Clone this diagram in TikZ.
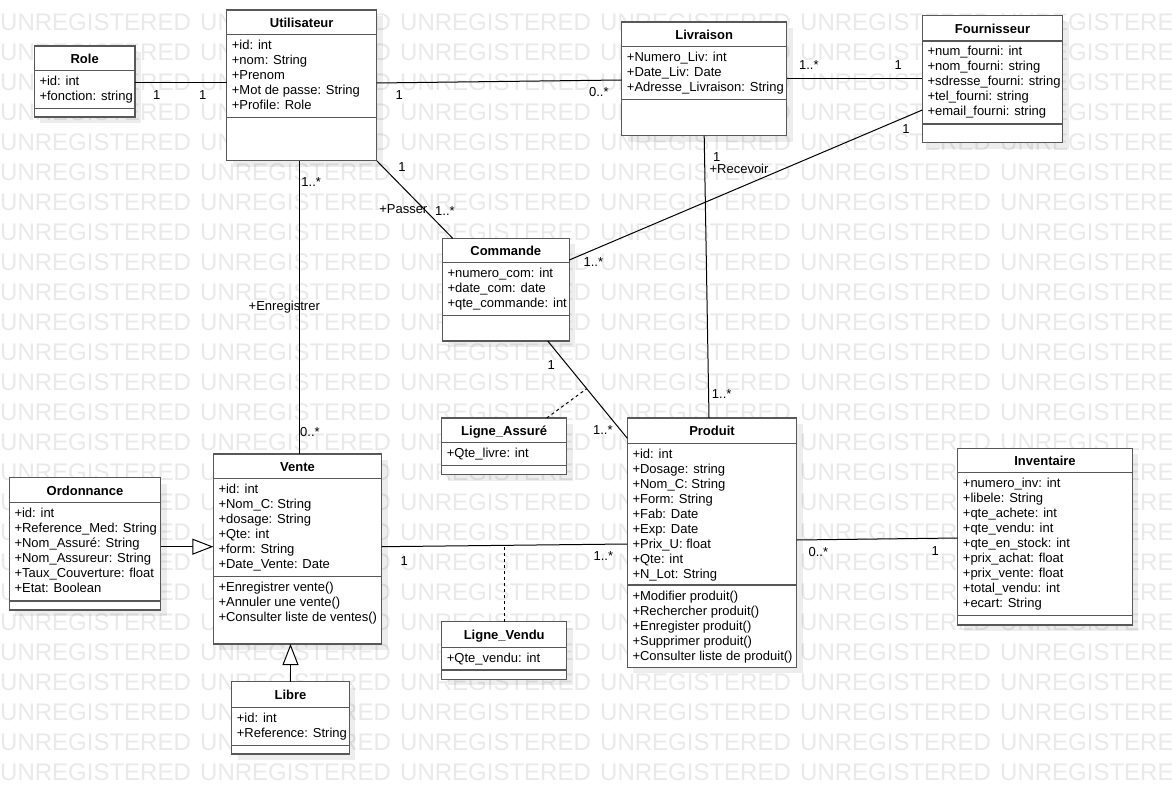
\documentclass[tikz,border=0pt]{standalone}
\usepackage{fontspec}
\setmainfont{Liberation Sans}
\usetikzlibrary{arrows.meta}
\definecolor{wmgray}{RGB}{233,233,233}
\definecolor{boxborder}{RGB}{88,88,88}
\newcommand{\umlclass}[9]{%
  \fill[boxshadow] ({#2+6},{#3+6}) rectangle ({#4+6},{#5+6});
  \node[classbox, minimum width={(#4-#2)*1pt}, minimum height={(#5-#3)*1pt}] (#1) at ({(#2+#4)/2},{(#3+#5)/2}) {};
  \draw[classline] ({#2},{#6}) -- ({#4},{#6});
  \draw[classline] ({#2},{#7}) -- ({#4},{#7});
  \node[classtitle] (#1-t) at ({(#2+#4)/2},{(#3+#6)/2+5}) {#8};
  \foreach \mtxt [count=\mi from 0] in {#9} {\node[member] (#1-a\mi) at ({#2+5},{#6+15+15*\mi}) {\mtxt};}%
}
\newcommand{\umlmethods}[4]{%
  \foreach \mtxt [count=\mi from 0] in {#4} {\node[member] (#1-m\mi) at ({#2+5},{#3+15+15*\mi}) {\mtxt};}%
}
\begin{document}
\begin{tikzpicture}[x=1pt,y=-1pt,
  classbox/.style={draw=boxborder, line width=1.3pt, fill=white, inner sep=0pt, outer sep=0pt},
  classline/.style={draw=boxborder, line width=1.3pt},
  boxshadow/.style={fill=black, opacity=0.07},
  classtitle/.style={font=\fontsize{13}{15}\selectfont\bfseries, anchor=base, inner sep=0pt},
  member/.style={font=\fontsize{13}{15}\selectfont, anchor=base west, inner sep=0pt},
  assoc/.style={draw=black, line width=1pt},
  dep/.style={draw=black, line width=1pt, dash pattern=on 3pt off 3pt},
  mult/.style={font=\fontsize{13}{15}\selectfont, anchor=base, inner sep=0pt},
  wm/.style={font=\fontsize{24}{24}\selectfont, text=wmgray, anchor=base west, inner sep=0pt},
  gen/.style={draw=black, line width=1pt, -{Triangle[length=21pt,width=16pt,fill=white]}}
]
\useasboundingbox (0,0) rectangle (1172,794);
\fill[white] (0,0) rectangle (1172,794);
\begin{scope}
  \clip (0,0) rectangle (1172,794);
  \foreach \r in {0,...,25} {
    \foreach \c in {0,...,5} {
      \node[wm] (wm-\r-\c) at ({200*\c},{30.5+30*\r}) {UNREGISTERED};
    }
  }
\end{scope}

\umlclass{role}{34.3}{46}{135}{117}{70.7}{108.3}{Role}{+id: int,+fonction: string}
\umlclass{util}{226.7}{10}{376.7}{160.7}{34.3}{117.7}{Utilisateur}{+id: int,+nom: String,+Prenom,+Mot de passe: String,+Profile: Role}
\umlclass{liv}{621.7}{22}{786.7}{135.7}{46.7}{99.3}{Livraison}{+Numero\_Liv: int,+Date\_Liv: Date,+Adresse\_Livraison: String}
\umlclass{four}{922.3}{15.7}{1062.7}{142.7}{41}{124}{Fournisseur}{+num\_fourni: int,+nom\_fourni: string,+sdresse\_fourni: string,+tel\_fourni: string,+email\_fourni: string}
\umlclass{commande}{442.3}{238.3}{569.3}{341}{262.7}{315.7}{Commande}{+numero\_com: int,+date\_com: date,+qte\_commande: int}
\umlclass{la}{441.7}{418}{566.7}{474.7}{442.3}{465.7}{Ligne\_Assuré}{+Qte\_livre: int}
\umlclass{produit}{627.3}{418}{796.7}{667.3}{443.3}{585}{Produit}{+id: int,+Dosage: string,+Nom\_C: String,+Form: String,+Fab: Date,+Exp: Date,+Prix\_U: float,+Qte: int,+N\_Lot: String}
\umlmethods{produit}{627.3}{585}{+Modifier produit(),+Rechercher produit(),+Enregister produit(),+Supprimer produit(),+Consulter liste de produit()}
\umlclass{inv}{957.7}{448.3}{1132.3}{625}{472.7}{615.7}{Inventaire}{+numero\_inv: int,+libele: String,+qte\_achete: int,+qte\_vendu: int,+qte\_en\_stock: int,+prix\_achat: float,+prix\_vente: float,+total\_vendu: int,+ecart: String}
\umlclass{vente}{213.3}{454}{381.7}{644}{478.3}{576.7}{Vente}{+id: int,+Nom\_C: String,+dosage: String,+Qte: int,+form: String,+Date\_Vente: Date}
\umlmethods{vente}{213.3}{576.7}{+Enregistrer vente(),+Annuler une vente(),+Consulter liste de ventes()}
\umlclass{ord}{9.3}{477.7}{160.7}{610}{502.7}{601}{Ordonnance}{+id: int,+Reference\_Med: String,+Nom\_Assuré: String,+Nom\_Assureur: String,+Taux\_Couverture: float,+Etat: Boolean}
\umlclass{libre}{231.7}{681.7}{349.3}{754}{707.7}{745.3}{Libre}{+id: int,+Reference: String}
\umlclass{lv}{441.7}{621.7}{566.7}{679.3}{647.7}{670}{Ligne\_Vendu}{+Qte\_vendu: int}

% connectors
\coordinate (c1) at ([yshift=-1.35pt]role.east);
\draw[assoc] (c1) -- (c1 -| util.west);
\draw[assoc] ([yshift=2.35pt]util.east) -- ([yshift=-1.15pt]liv.west);
\draw[assoc] (liv.east) -- (liv.east -| four.west);
\draw[assoc] ([yshift=-30.8pt]four.west) -- ([yshift=29.65pt]commande.east);
\draw[assoc] (liv.south) -- ([xshift=-3pt]produit.north);
\draw[assoc] (util.south east) -- ([xshift=10.4pt]commande.north west);
\coordinate (c7) at ([xshift=-2pt]util.south);
\draw[assoc] (c7) -- (c7 |- vente.north);
\draw[assoc] ([xshift=41.9pt]commande.south) -- coordinate[pos=0.49] (ca) ([yshift=-20.3pt]produit.north west);
\draw[dep] ([xshift=-20pt]la.north east) -- (ca);
\draw[assoc] ([yshift=2.3pt]vente.east) -- coordinate[pos=0.5] (cv) ([yshift=-1.35pt]produit.west);
\draw[dep] (lv.north) -- (lv.north |- cv);
\draw[assoc] ([yshift=2.65pt]produit.east) -- ([yshift=-1.35pt]inv.west);
\coordinate (c11) at ([yshift=-2.85pt]ord.east);
\draw[gen] (c11) -- (c11 -| vente.west);
\draw[gen] (libre.north) -- (libre.north |- vente.south);

% multiplicities and roles
\node[mult] (m1) at (156.7,100) {1};
\node[mult] (m2) at (202.7,100) {1};
\node[mult] (m3) at (399.3,100) {1};
\node[mult] (m4) at (598.8,96.7) {0..*};
\node[mult] (m5) at (808.8,70) {1..*};
\node[mult] (m6) at (898.3,70) {1};
\node[mult] (m7) at (906,133.3) {1};
\node[mult] (m8) at (593.3,266.7) {1..*};
\node[mult] (m9) at (716.7,161.7) {1};
\node[mult] (r1) at (739,174) {+Recevoir};
\node[mult] (m10) at (721.7,398.3) {1..*};
\node[mult] (m11) at (402,171.7) {1};
\node[mult] (r2) at (403.3,213.3) {+Passer};
\node[mult] (m12) at (445,215.7) {1..*};
\node[mult] (m13) at (311.2,186.7) {1..*};
\node[mult] (r3) at (284.3,310) {+Enregistrer};
\node[mult] (m14) at (310,436) {0..*};
\node[mult] (m15) at (551.2,369.3) {1};
\node[mult] (m16) at (602.8,434.3) {1..*};
\node[mult] (m17) at (404.2,565) {1};
\node[mult] (m18) at (603.3,560) {1..*};
\node[mult] (m19) at (818.3,556.7) {0..*};
\node[mult] (m20) at (935.2,555) {1};
\end{tikzpicture}
\end{document}
